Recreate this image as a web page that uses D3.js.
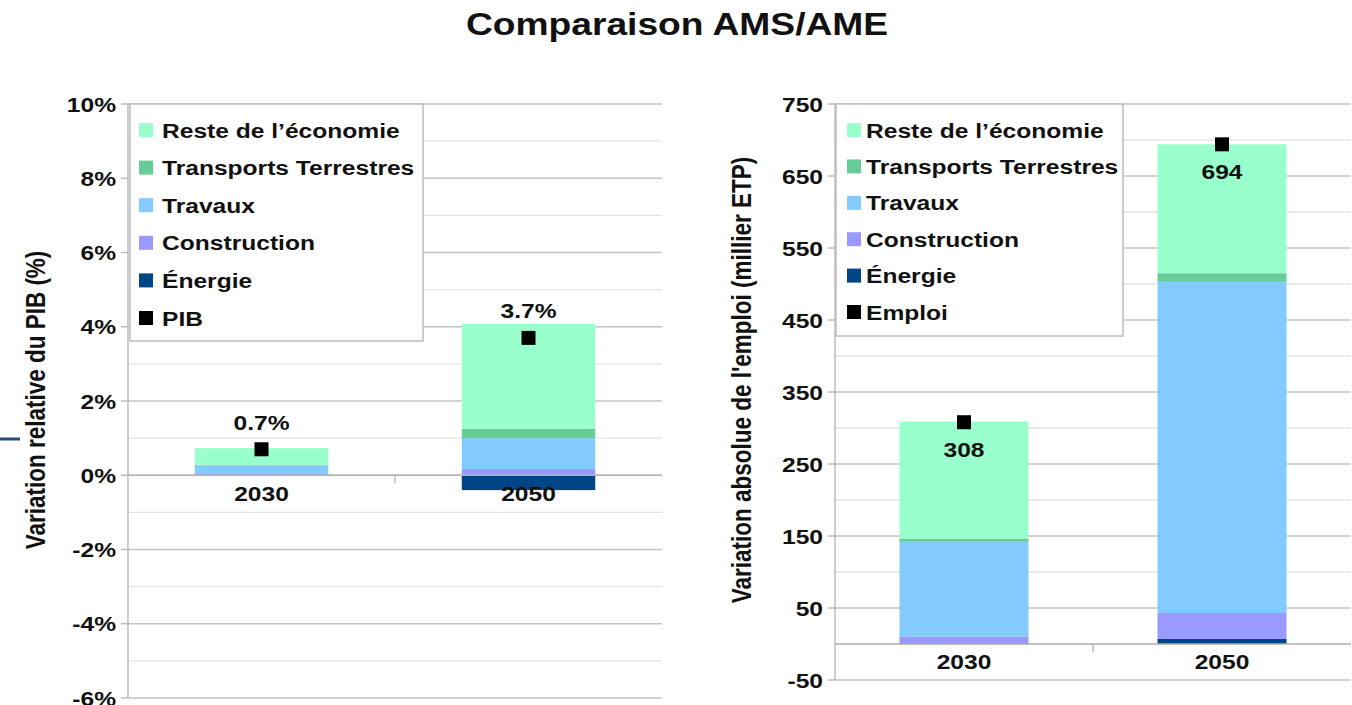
<!DOCTYPE html>
<html lang="fr">
<head>
<meta charset="utf-8">
<title>Comparaison AMS/AME</title>
<script src="https://cdn.jsdelivr.net/npm/d3@7/dist/d3.min.js"></script>
<style>
  html, body { margin: 0; padding: 0; background: #ffffff; }
  svg { display: block; }
  text { font-family: "Liberation Sans", Arial, sans-serif; font-weight: bold; fill: #111; }
</style>
</head>
<body>
<svg id="chart" width="1352" height="705"></svg>
<script>
// ---- Data ----------------------------------------------------------
const years = ["2030", "2050"];
const sectors = ["Énergie", "Construction", "Travaux", "Transports Terrestres", "Reste de l’économie"];

// Variation relative du PIB (%), contributions by sector
const pibEnergie      = [-0.02, -0.40];
const pibConstruction = [0.03, 0.17];
const pibTravaux      = [0.24, 0.83];
const pibTransports   = [0.01, 0.25];
const pibReste        = [0.45, 2.83];
const pibTotal        = [0.7, 3.7];
const pibTicks        = [-6, -4, -2, 0, 2, 4, 6, 8, 10];

// Variation absolue de l'emploi (milliers ETP), contributions by sector
const empEnergie      = [1, 7];
const empConstruction = [9, 36];
const empTravaux      = [133, 460];
const empTransports   = [3, 12];
const empReste        = [163, 179];
const empTotal        = [308, 694];
const empTicks        = [-50, 50, 150, 250, 350, 450, 550, 650, 750];

// ---- Styles ---------------------------------------------------------
const colors = {
  "Reste de l’économie": "#99ffcc",
  "Transports Terrestres": "#66cc99",
  "Travaux": "#83caff",
  "Construction": "#9999ff",
  "Énergie": "#004586"
};
const legendOrder = ["Reste de l’économie", "Transports Terrestres", "Travaux", "Construction", "Énergie"];
const SX = 1.2;          // horizontal text stretch
const FS = 20.5;         // base font size
const GRID_MAJOR = "#c4c4c4";
const GRID_MINOR = "#e4e4e4";
const AXIS = "#b3b3b3";

const svg = d3.select("#chart");

function label(g, x, y, str, size, anchor) {
  return g.append("text")
    .attr("transform", `translate(${x},${y}) scale(${SX},1)`)
    .attr("text-anchor", anchor || "middle")
    .style("font-size", size + "px")
    .text(str);
}

function buildRows(cols) {
  return years.map((yr, i) => {
    const row = { year: yr };
    sectors.forEach((s, k) => { row[s] = cols[k][i]; });
    return row;
  });
}

function drawPanel(cfg) {
  const g = svg.append("g");
  const y = d3.scaleLinear().domain(cfg.domain).range([cfg.bottom, cfg.top]);
  const x = d3.scaleBand().domain(years).range([cfg.left, cfg.right]);
  const bw = x.bandwidth() / 2;

  // minor gridlines (halfway between labelled ticks)
  const step = cfg.ticks[1] - cfg.ticks[0];
  const minor = cfg.ticks.slice(0, -1).map(t => t + step / 2);
  g.append("g").selectAll("line").data(minor).join("line")
    .attr("x1", cfg.left).attr("x2", cfg.right)
    .attr("y1", d => y(d)).attr("y2", d => y(d))
    .attr("stroke", GRID_MINOR).attr("stroke-width", 1.3);

  // major gridlines
  g.append("g").selectAll("line").data(cfg.ticks).join("line")
    .attr("x1", cfg.left).attr("x2", cfg.right)
    .attr("y1", d => y(d)).attr("y2", d => y(d))
    .attr("stroke", GRID_MAJOR).attr("stroke-width", 1.3);

  // y axis line + outward ticks
  g.append("line")
    .attr("x1", cfg.left).attr("x2", cfg.left)
    .attr("y1", cfg.top).attr("y2", cfg.bottom)
    .attr("stroke", AXIS).attr("stroke-width", 1.3);
  g.append("g").selectAll("line").data(cfg.ticks).join("line")
    .attr("x1", cfg.left - 7).attr("x2", cfg.left)
    .attr("y1", d => y(d)).attr("y2", d => y(d))
    .attr("stroke", AXIS).attr("stroke-width", 1.3);

  // y tick labels
  cfg.ticks.forEach(t => {
    label(g, cfg.left - 12, y(t) + 7.5, cfg.fmt(t), FS, "end");
  });

  // y axis title
  g.append("text")
    .attr("transform", `translate(${cfg.titleX},${(cfg.titleY)}) scale(${SX},1) rotate(-90)`)
    .attr("text-anchor", "middle")
    .style("font-size", "22.5px")
    .text(cfg.title);

  // stacked bars
  const stack = d3.stack().keys(sectors).offset(d3.stackOffsetDiverging);
  const series = stack(cfg.rows);
  g.append("g").selectAll("g").data(series).join("g")
    .attr("fill", d => colors[d.key])
    .selectAll("rect").data(d => d).join("rect")
      .attr("x", d => x(d.data.year) + bw / 2)
      .attr("width", bw)
      .attr("y", d => y(Math.max(d[0], d[1])))
      .attr("height", d => Math.abs(y(d[0]) - y(d[1])));

  // zero line (category axis) and the tick between categories
  g.append("line")
    .attr("x1", cfg.left).attr("x2", cfg.right)
    .attr("y1", y(0)).attr("y2", y(0))
    .attr("stroke", AXIS).attr("stroke-width", 1.5);
  g.append("line")
    .attr("x1", x(years[1])).attr("x2", x(years[1]))
    .attr("y1", y(0)).attr("y2", y(0) + 8)
    .attr("stroke", AXIS).attr("stroke-width", 1.3);

  // category labels
  years.forEach(yr => {
    label(g, x(yr) + x.bandwidth() / 2, y(0) + cfg.catDy, yr, FS, "middle");
  });

  // total markers + value labels
  cfg.totals.forEach((v, i) => {
    const cx = x(years[i]) + x.bandwidth() / 2;
    g.append("rect")
      .attr("x", cx - 7).attr("y", y(v) - 7)
      .attr("width", 14).attr("height", 14)
      .attr("fill", "#000");
    label(g, cx, y(v) + cfg.valDy + 7.5, cfg.valFmt(v), FS, "middle");
  });

  // legend
  const lg = g.append("g");
  lg.append("rect")
    .attr("x", cfg.legend.x).attr("y", cfg.legend.y)
    .attr("width", cfg.legend.w).attr("height", cfg.legend.h)
    .attr("fill", "#fff").attr("stroke", "#bdbdbd").attr("stroke-width", 1.5);
  const items = legendOrder.map(k => ({ name: k, color: colors[k] }))
    .concat([{ name: cfg.totalName, color: "#000" }]);
  items.forEach((it, i) => {
    const cy = cfg.legend.row0 + i * cfg.legend.rowStep;
    lg.append("rect")
      .attr("x", cfg.legend.sw).attr("y", cy - 7)
      .attr("width", 14).attr("height", 14)
      .attr("fill", it.color);
    label(lg, cfg.legend.tx, cy + 7.5, it.name, FS, "start");
  });
}

// ---- Title ------------------------------------------------------------
label(svg, 677, 35, "Comparaison AMS/AME", 31, "middle");

// small decorative rule at the left margin
svg.append("line")
  .attr("x1", 0).attr("x2", 20).attr("y1", 439).attr("y2", 439)
  .attr("stroke", "#2a4f7a").attr("stroke-width", 3);

// ---- Left panel: PIB ----------------------------------------------------
drawPanel({
  rows: buildRows([pibEnergie, pibConstruction, pibTravaux, pibTransports, pibReste]),
  totals: pibTotal,
  totalName: "PIB",
  domain: [-6, 10],
  ticks: pibTicks,
  fmt: t => t + "%",
  valFmt: v => d3.format(".1f")(v) + "%",
  valDy: -27,
  catDy: 26,
  top: 104, bottom: 698, left: 128, right: 662,
  title: "Variation relative du PIB (%)",
  titleX: 45, titleY: 400,
  legend: { x: 130, y: 104, w: 293, h: 237, row0: 130, rowStep: 37.6, sw: 139, tx: 162 }
});

// ---- Right panel: Emploi ------------------------------------------------
drawPanel({
  rows: buildRows([empEnergie, empConstruction, empTravaux, empTransports, empReste]),
  totals: empTotal,
  totalName: "Emploi",
  domain: [-50, 750],
  ticks: empTicks,
  fmt: t => String(t),
  valFmt: v => String(v),
  valDy: 27,
  catDy: 25,
  top: 104, bottom: 680, left: 835, right: 1351,
  title: "Variation absolue de l'emploi (millier ETP)",
  titleX: 751, titleY: 380,
  legend: { x: 836, y: 104, w: 287, h: 232, row0: 130, rowStep: 36.4, sw: 847, tx: 866 }
});
</script>
</body>
</html>
